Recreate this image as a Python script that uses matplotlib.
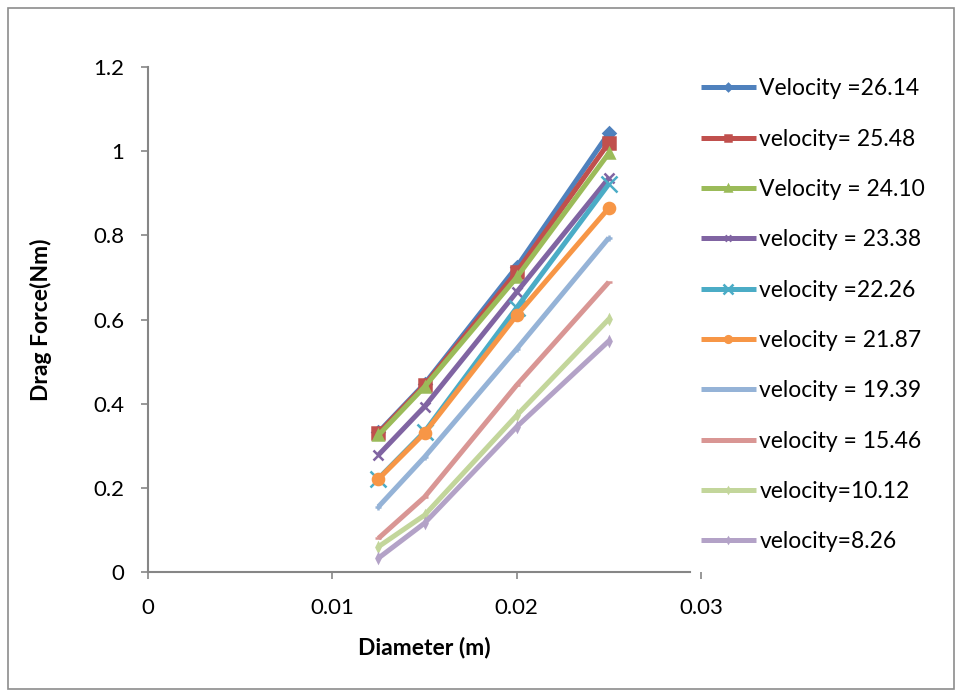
"""Drag force vs diameter for several flow velocities (Excel-style line chart)."""
import matplotlib
matplotlib.use("Agg")
import matplotlib.pyplot as plt
from matplotlib.patches import Rectangle

diameter = [0.0125, 0.015, 0.02, 0.025]

labels = ["Velocity =26.14", "velocity= 25.48", "Velocity = 24.10", "velocity = 23.38",
          "velocity =22.26", "velocity = 21.87", "velocity = 19.39", "velocity = 15.46",
          "velocity=10.12", "velocity=8.26"]

v2614 = [0.332, 0.447, 0.725, 1.043]
v2548 = [0.330, 0.444, 0.713, 1.020]
v2410 = [0.325, 0.440, 0.700, 0.995]
v2338 = [0.278, 0.393, 0.665, 0.936]
v2226 = [0.222, 0.333, 0.628, 0.922]
v2187 = [0.221, 0.330, 0.610, 0.865]
v1939 = [0.155, 0.273, 0.530, 0.794]
v1546 = [0.080, 0.178, 0.444, 0.689]
v1012 = [0.060, 0.135, 0.372, 0.601]
v826 = [0.033, 0.116, 0.345, 0.549]

series = [v2614, v2548, v2410, v2338, v2226, v2187, v1939, v1546, v1012, v826]

COLORS = ["#4F81BD", "#C0504D", "#9BBB59", "#8064A2", "#4BACC6", "#F79646",
          "#95B3D7", "#D99694", "#C3D69B", "#B3A2C7"]
MARKERS = [("D", 6), ("s", 8), ("^", 7), ("x", 7), ("x", 12), ("o", 8),
           ("+", 5), ("_", 5), ("d", 4), ("d", 4)]

FONT = "Lato"

fig = plt.figure(figsize=(9.58, 6.91), dpi=100)
fig.patches.append(Rectangle((8 / 958, 2 / 691), 946 / 958, 681 / 691, transform=fig.transFigure,
                             fill=False, edgecolor="#8c8c8c", linewidth=1.2))

ax = fig.add_axes([148 / 958, 119 / 691, 553 / 958, 505 / 691])
for vals, lab, c, (m, ms) in zip(series, labels, COLORS, MARKERS):
    ax.plot(diameter, vals, color=c, linewidth=3.6, marker=m, markersize=ms,
            markeredgewidth=1.8, markeredgecolor=c, label=lab, solid_capstyle="butt")

ax.set_xlim(0, 0.03)
ax.set_ylim(0, 1.2)
ax.set_xticks([0, 0.01, 0.02, 0.03])
ax.set_xticklabels(["0", "0.01", "0.02", "0.03"])
ax.set_yticks([0, 0.2, 0.4, 0.6, 0.8, 1.0, 1.2])
ax.set_yticklabels(["0", "0.2", "0.4", "0.6", "0.8", "1", "1.2"])

for side in ("top", "right"):
    ax.spines[side].set_visible(False)
for side in ("left", "bottom"):
    ax.spines[side].set_color("#868686")
    ax.spines[side].set_linewidth(1.5)
ax.spines["bottom"].set_bounds(0, 0.0294)
ax.tick_params(axis="both", direction="out", length=5, width=1.2, color="#868686",
               labelsize=16, pad=12)
ax.tick_params(axis="x", pad=14)
for t in ax.get_xticklabels() + ax.get_yticklabels():
    t.set_fontfamily(FONT)

ax.set_xlabel("Diameter (m)", fontsize=16.5, fontweight="bold", family=FONT, labelpad=13)
ax.set_ylabel("Drag Force(Nm)", fontsize=16.5, fontweight="bold", family=FONT, labelpad=30)

ax.legend(loc="upper left", bbox_to_anchor=(0.975, 1.005), frameon=False,
          prop={"family": FONT, "size": 16.5}, handlelength=2.4, handletextpad=0.15,
          labelspacing=1.28, borderaxespad=0.2, markerscale=0.6)

fig.savefig("out.png", dpi=100)
